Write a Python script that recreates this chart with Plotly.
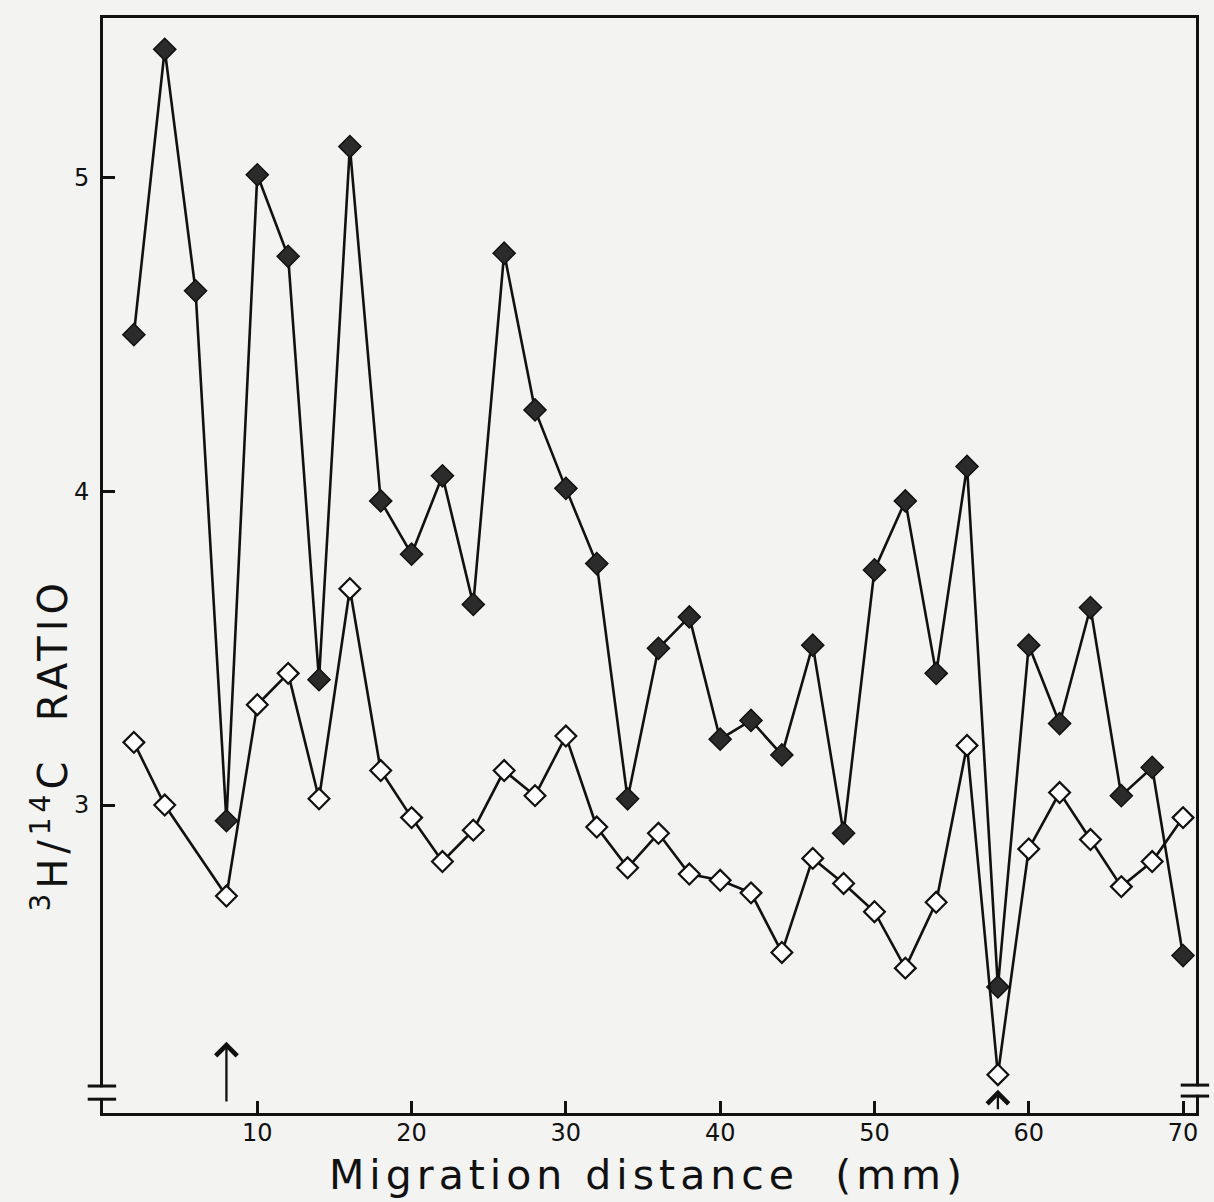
import plotly.graph_objects as go

# Migration distance (mm) for each gel slice
dist_filled = [2, 4, 6, 8, 10, 12, 14, 16, 18, 20, 22, 24, 26, 28, 30, 32, 34, 36,
               38, 40, 42, 44, 46, 48, 50, 52, 54, 56, 58, 60, 62, 64, 66, 68, 70]
ratio_filled = [4.50, 5.41, 4.64, 2.95, 5.01, 4.75, 3.40, 5.10, 3.97, 3.80, 4.05, 3.64,
                4.76, 4.26, 4.01, 3.77, 3.02, 3.50, 3.60, 3.21, 3.27, 3.16, 3.51, 2.91,
                3.75, 3.97, 3.42, 4.08, 2.42, 3.51, 3.26, 3.63, 3.03, 3.12, 2.52]

dist_open = [2, 4, 8, 10, 12, 14, 16, 18, 20, 22, 24, 26, 28, 30, 32, 34, 36,
             38, 40, 42, 44, 46, 48, 50, 52, 54, 56, 58, 60, 62, 64, 66, 68, 70]
ratio_open = [3.20, 3.00, 2.71, 3.32, 3.42, 3.02, 3.69, 3.11, 2.96, 2.82, 2.92, 3.11,
              3.03, 3.22, 2.93, 2.80, 2.91, 2.78, 2.76, 2.72, 2.53, 2.83, 2.75, 2.66,
              2.48, 2.69, 3.19, 2.14, 2.86, 3.04, 2.89, 2.74, 2.82, 2.96]

x_ticks = [10, 20, 30, 40, 50, 60, 70]
y_ticks = [3, 4, 5]

# Marker positions (arrows) on the distance axis: (x, tail y, tip y)
arrows = [(8, 2.05, 2.245), (58, 2.025, 2.092)]

BG = "#f3f3f1"
INK = "#111111"
FONT = "DejaVu Sans"

fig = go.Figure()

fig.add_trace(go.Scatter(
    x=dist_filled, y=ratio_filled, mode="lines+markers",
    line=dict(color=INK, width=2.6),
    marker=dict(symbol="diamond", size=17, color="#2b2b2b",
                line=dict(color=INK, width=1.5)),
    showlegend=False,
))

fig.add_trace(go.Scatter(
    x=dist_open, y=ratio_open, mode="lines+markers",
    line=dict(color=INK, width=2.6),
    marker=dict(symbol="diamond", size=16, color="white",
                line=dict(color=INK, width=2.2)),
    showlegend=False,
))

axis_common = dict(
    showline=True, linecolor=INK, linewidth=3, mirror=True,
    ticks="inside", ticklen=12, tickwidth=2.5, tickcolor=INK,
    showgrid=False, zeroline=False,
    tickfont=dict(family=FONT, size=24, color=INK),
)

fig.update_xaxes(range=[0, 70.84], tickvals=x_ticks, ticklabelstandoff=-4, **axis_common)
fig.update_yaxes(range=[2.018, 5.51], tickvals=y_ticks, ticklabelstandoff=6, **axis_common)

shapes = []
# axis breaks near the bottom of the left and right axes
for xc, y_lo, y_hi in [(0.0, 2.062, 2.104), (1.0, 2.072, 2.107)]:
    shapes.append(dict(type="rect", xref="paper", yref="y",
                       x0=xc - 0.006, x1=xc + 0.006, y0=y_lo + 0.004, y1=y_hi - 0.004,
                       fillcolor=BG, line=dict(width=0), layer="above"))
    for yy in (y_lo, y_hi):
        shapes.append(dict(type="line", xref="paper", yref="y",
                           x0=xc - 0.014, x1=xc + 0.012, y0=yy, y1=yy,
                           line=dict(color=INK, width=3), layer="above"))

annotations = []
for xa, y_tail, y_tip in arrows:
    annotations.append(dict(
        x=xa, y=y_tip, ax=xa, ay=y_tail, xref="x", yref="y", axref="x", ayref="y",
        text="", showarrow=True, arrowhead=4, arrowsize=1.8, arrowwidth=2.3,
        arrowcolor=INK,
    ))

annotations.append(dict(
    text='<span style="letter-spacing:5px">Migration distance  (mm)</span>',
    xref="paper", yref="paper",
    x=0.499, y=-0.057, xanchor="center", yanchor="middle", showarrow=False,
    font=dict(family=FONT, size=41, color=INK),
))
annotations.append(dict(
    text='<span style="letter-spacing:5px"><sup>3</sup>H/<sup>14</sup>C  RATIO</span>',
    xref="paper", yref="paper",
    x=-0.048, y=0.336, xanchor="center", yanchor="middle", showarrow=False,
    textangle=-90, font=dict(family=FONT, size=40, color=INK),
))

fig.update_layout(
    width=1214, height=1202,
    margin=dict(l=103, r=18, t=18, b=89),
    paper_bgcolor=BG, plot_bgcolor=BG,
    shapes=shapes, annotations=annotations,
)

fig.write_html("out.html")
